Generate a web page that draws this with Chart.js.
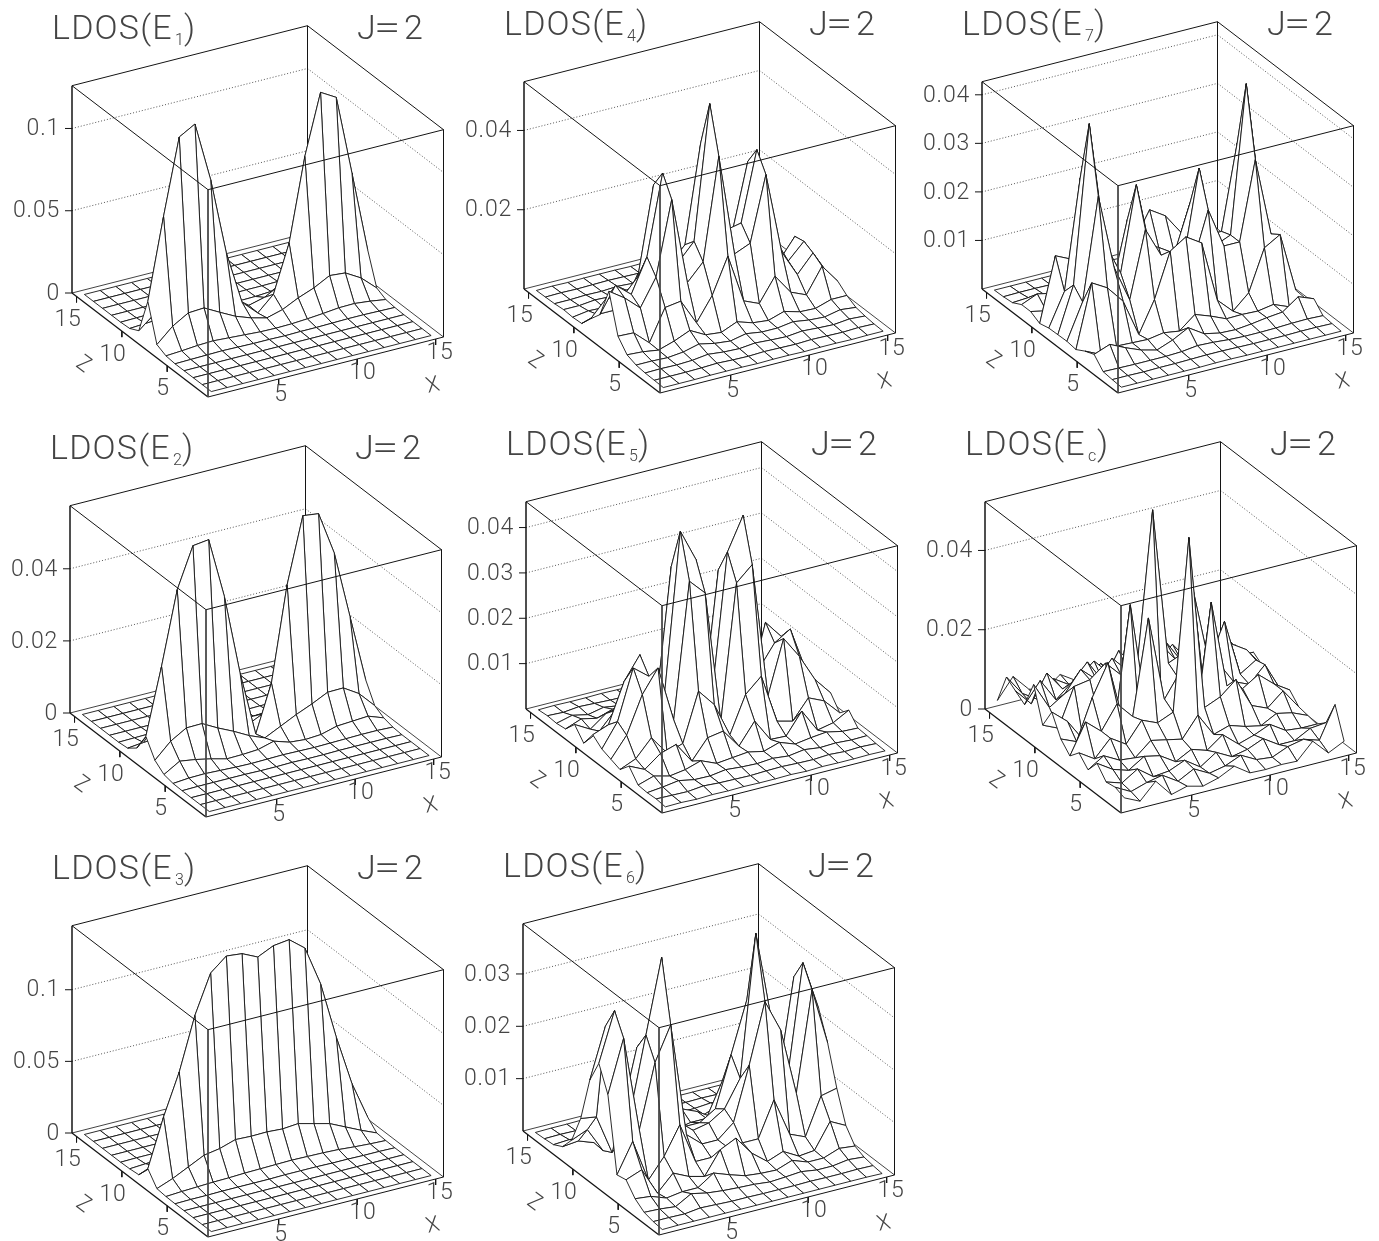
<!DOCTYPE html>
<html><head><meta charset="utf-8">
<style>html,body{margin:0;padding:0;background:#fff;overflow:hidden;width:1379px;height:1241px}
#wrap{position:relative;width:1379px;height:1241px;overflow:hidden}canvas{position:absolute;display:block}</style>
<script src="https://cdn.jsdelivr.net/npm/chart.js@4/dist/chart.umd.min.js"></script>
</head><body><div id="wrap"></div>
<script>
// LDOS. Rows are z = 1..15, columns x = 1..15,
// in relative units: 622 = the top of that panel's value axis.
const Z0=[0,0,0,0,0,0,0,0,0,0,0,0,0,0,0];
const ldosE1=[Z0,Z0,Z0,Z0,
[0,1,2,3,2,1,1,0,1,1,2,3,3,2,1],
[3,6,10,12,9,6,3,2,3,6,10,15,16,11,4],
[16,59,87,90,65,41,24,12,25,48,66,91,87,60,18],
[125,368,594,621,442,210,50,6,50,192,440,620,593,354,112],
[16,55,85,88,62,38,20,8,20,45,64,88,84,58,16],
[2,5,9,11,8,5,2,1,2,5,8,12,14,9,3],
[0,1,2,3,2,1,1,0,1,1,2,3,3,2,1],Z0,Z0,Z0,Z0];
const ldosE2=[Z0,Z0,Z0,
[0,1,1,1,1,0,0,1,0,0,1,1,1,1,0],
[1,5,6,4,2,1,2,3,2,1,2,3,4,4,2],
[7,35,28,18,6,7,10,23,8,4,7,20,23,26,9],
[29,74,102,103,78,56,31,12,35,58,78,101,102,73,25],
[80,278,496,616,622,440,198,3,144,427,622,616,486,284,82],
[24,70,100,100,75,50,28,8,30,55,75,100,100,70,22],
[3,8,12,12,8,5,3,1,3,6,9,12,12,8,3],
[0,1,2,2,1,1,0,0,0,1,1,2,2,1,0],Z0,Z0,Z0,Z0];
const ldosE3=[Z0,Z0,Z0,Z0,
[0,1,1,2,2,2,2,3,3,3,2,2,1,1,0],
[1,4,6,8,9,11,12,13,14,13,12,10,6,3,1],
[4,22,45,68,76,91,89,90,87,91,79,67,45,23,3],
[43,186,309,467,582,621,616,594,616,622,585,466,294,142,30],
[4,20,44,66,74,88,88,88,86,90,78,65,44,22,3],
[1,4,6,8,9,11,12,13,14,13,12,10,6,3,1],
[0,1,1,2,2,2,2,3,3,3,2,2,1,1,0],Z0,Z0,Z0,Z0];
const ldosE4=[
[0,0,0,1,1,1,0,1,1,0,1,1,0,1,1],
[1,1,1,2,4,2,1,3,2,1,3,2,1,3,2],
[2,3,2,4,10,5,3,8,5,3,8,5,3,8,5],
[5,5,3,8,20,10,5,15,8,8,15,8,5,15,10],
[15,12,5,20,40,15,10,30,15,10,25,12,10,25,25],
[50,48,6,100,107,30,100,206,60,40,110,50,30,104,47],
[164,132,90,170,391,130,180,485,180,200,394,150,70,123,46],
[73,149,110,210,450,170,221,622,230,240,448,180,90,137,60],
[40,90,80,130,394,140,190,483,200,190,392,150,70,131,74],
[5,20,20,60,148,40,60,167,60,40,146,40,30,60,30],
[3,10,8,20,50,15,12,45,12,10,50,12,8,20,10],
[5,5,10,8,15,6,5,18,6,5,15,6,5,8,4],
[2,2,4,3,6,3,3,6,4,3,6,3,2,3,2],
[1,2,1,2,3,2,1,2,2,1,2,2,1,1,1],
[0,1,0,1,1,1,0,1,1,0,1,0,1,0,0]];
const ldosE5=[
[2,3,1,3,2,3,2,2,3,1,3,2,2,3,2],
[5,4,3,8,5,4,3,5,6,4,3,6,3,5,3],
[3,8,15,6,5,12,8,6,10,5,12,6,8,5,6],
[5,20,8,15,30,10,15,20,10,25,8,15,20,10,8],
[41,19,55,70,8,66,74,17,80,13,11,74,5,15,41],
[10,30,81,24,40,185,133,30,139,182,35,23,81,60,12],
[20,80,190,258,90,494,447,50,453,496,90,250,185,103,51],
[30,100,249,212,150,623,526,100,525,623,150,216,246,110,35],
[52,70,188,256,80,497,400,50,451,500,80,257,203,80,49],
[6,30,80,30,40,190,130,30,150,170,35,30,90,50,20],
[41,15,50,60,15,70,70,20,70,15,15,70,20,30,20],
[7,25,15,30,15,15,10,25,15,20,10,20,15,10,5],
[3,15,5,15,8,6,8,5,8,6,5,8,6,5,3],
[5,3,8,6,4,3,5,4,3,4,3,3,4,2,2],
[2,3,2,2,3,2,2,3,2,2,1,2,1,1,1]];
const ldosE6=[
[0,1,1,1,1,1,1,1,1,1,1,1,1,1,0],
[3,3,2,8,6,4,4,3,3,3,4,3,3,4,3],
[10,8,3,30,20,15,12,10,5,8,12,5,5,12,8],
[30,25,8,15,15,47,30,15,10,8,25,8,8,25,20],
[66,84,2,50,28,16,84,107,50,13,31,5,10,85,61],
[60,148,20,79,162,40,40,60,60,60,165,50,30,141,152],
[280,437,150,340,441,100,60,60,100,260,439,342,140,438,266],
[353,499,180,402,623,120,80,90,120,200,623,350,160,499,350],
[282,432,150,344,394,100,70,70,100,250,402,300,140,436,280],
[146,139,20,70,160,40,40,50,50,148,166,50,30,140,150],
[60,80,5,50,30,15,60,70,50,20,30,10,10,70,50],
[20,25,8,15,15,30,25,15,10,8,25,8,8,25,15],
[5,8,3,12,10,12,10,8,5,6,10,5,5,10,8],
[2,3,2,5,5,6,5,4,3,3,4,3,3,4,3],
[0,1,1,2,2,3,4,3,2,1,1,1,1,1,1]];
const ldosE7=[
[1,1,1,1,1,1,2,2,1,1,1,1,1,1,1],
[3,3,2,3,3,4,5,5,4,3,3,3,4,4,3],
[6,5,4,4,4,6,12,10,6,4,4,5,7,8,6],
[37,55,33,14,2,20,45,15,5,3,8,15,20,54,36],
[26,4,17,15,13,21,14,52,35,15,16,14,22,3,18],
[10,198,171,119,7,100,233,264,234,50,5,48,171,199,20],
[14,120,425,200,90,289,200,180,150,300,180,180,415,180,30],
[13,150,622,250,150,403,170,90,140,405,160,180,622,220,70],
[12,110,438,190,80,277,190,170,140,280,170,170,423,170,30],
[5,196,174,60,10,60,180,262,232,170,60,40,191,170,30],
[20,10,15,15,12,20,14,50,35,15,16,14,22,10,15],
[20,40,30,14,3,20,40,15,5,3,8,15,20,50,30],
[5,8,6,5,4,6,10,8,6,4,4,5,7,8,6],
[2,3,3,2,2,3,4,4,3,2,2,2,3,3,2],
[1,1,1,1,1,1,1,2,1,1,1,1,1,1,1]];
const ldosEc=[
[29,7,55,3,16,4,17,40,8,6,9,7,55,8,31],
[40,15,30,40,10,35,10,20,40,15,10,30,40,25,120],
[35,20,50,15,20,40,8,40,15,25,45,15,15,40,45],
[70,40,25,55,45,15,40,25,60,20,35,55,25,20,20],
[30,60,35,30,70,60,50,110,40,55,40,30,55,45,25],
[60,30,80,50,110,90,110,622,100,120,160,70,50,90,30],
[30,120,80,150,100,384,130,20,25,383,120,100,130,90,60],
[60,40,160,252,60,50,30,60,60,150,170,100,80,127,40],
[120,80,13,70,30,382,60,60,130,379,150,260,90,120,60],
[60,39,152,160,198,150,160,622,150,170,210,130,160,130,70],
[161,80,110,170,128,180,130,160,190,130,150,110,140,90,90],
[80,140,70,110,160,90,170,110,100,160,90,130,80,120,50],
[100,50,130,70,90,130,80,110,70,80,120,60,100,60,70],
[121,60,30,80,50,40,90,40,70,40,50,70,30,60,30],
[30,90,40,25,60,30,40,60,30,50,25,40,50,20,40]];

const panelNames=['1','4','7','2','5','c','3','6'];
const panelGrids=[ldosE1,ldosE4,ldosE7,ldosE2,ldosE5,ldosEc,ldosE3,ldosE6];
const valueMax=[0.126,0.0523,0.0427,0.0575,0.0457,0.0523,0.1447,0.0396];
const valueTicks=[[0,0.05,0.1],[0.02,0.04],[0.01,0.02,0.03,0.04],[0,0.02,0.04],[0.01,0.02,0.03,0.04],[0,0.02,0.04],[0,0.05,0.1],[0.01,0.02,0.03]];
const gridTicks=[5,10,15];
// screen position of each panel's front-bottom corner
const corners=[[208,397.3],[660,393.3],[1118.3,393.3],[206,817.3],[661.7,813.3],[1120.7,813.3],[208,1236.7],[659.3,1235]];
const AX=[235.5,-60],AZ=[-136,-104],AH=207.3,AMIN=0.5,ARANGE=15,OX=208,OY=397,CW=460,CH=420;
const INK='#141414',TXT='#444',FONT='Roboto';

function project(x,z,v,zmax){
  const tx=(x-AMIN)/ARANGE,tz=(z-AMIN)/ARANGE;
  return {x:OX+tx*AX[0]+tz*AZ[0],y:OY+tx*AX[1]+tz*AZ[1]-v/zmax*AH};
}
function seg(points,w,color,dash){
  return {data:points,showLine:true,borderColor:color||INK,borderWidth:w,borderDash:dash||[],fill:false,pointRadius:0,tension:0,borderJoinStyle:'round',borderCapStyle:'butt'};
}
function textPlugin(p){return {id:'texts',afterDraw(c){
  const g=c.ctx,zmax=valueMax[p];
  g.save();g.fillStyle=TXT;g.textBaseline='alphabetic';
  const font=(s)=>`300 ${s}px ${FONT}`;
  g.textAlign='left';
  g.font=font(34);g.letterSpacing='1.2px';
  g.fillText('LDOS(E',52,39);
  g.letterSpacing='0px';
  g.font=font(16);g.fillText(panelNames[p],175,45);
  g.font=font(34);g.fillText(')',184,39);
  g.fillText('J',357,39);g.fillText('2',404,39);
  g.save();g.translate(374,39);g.scale(1.4,1);g.fillText('=',0,0);g.restore();
  g.font=font(23);g.letterSpacing='0.8px';
  g.textAlign='right';g.textBaseline='middle';
  valueTicks[p].forEach(v=>{const q=project(AMIN,ARANGE+AMIN,v,zmax);g.fillText(String(v),q.x-12,q.y+1);});
  g.textAlign='center';
  [[15,68,320],[10,113,355],[5,163,389]].forEach(([t,x,y])=>g.fillText(String(t),x,y));
  [[5,281,395],[10,363,373],[15,440,353]].forEach(([t,x,y])=>g.fillText(String(t),x,y));
  g.letterSpacing='0px';
  g.textAlign='left';g.textBaseline='alphabetic';g.font=font(22);
  g.save();g.transform(0.74,0.55,-0.58,0.84,75,366);g.fillText('Z',0,0);g.restore();
  g.save();g.transform(0.95,-0.19,0.25,0.96,428,392.7);g.fillText('X',0,0);g.restore();
  g.restore();
}};}

panelGrids.forEach((grid,p)=>{
  const zmax=valueMax[p],P=(x,z,v)=>project(x,z,v,zmax);
  const hi=AMIN+ARANGE,lo=AMIN,ds=[];
  const val=(i,j)=>grid[j][i]/622*zmax;
  // front box edges sit on top of the surface
  ds.push(seg([P(lo,lo,zmax),P(lo,lo,0)],1,'#444'));
  ds.push(seg([P(lo,hi,zmax),P(lo,lo,zmax),P(hi,lo,zmax)],1));
  ds.push(seg([P(lo,hi,0),P(lo,lo,0)],1.3));
  ds.push(seg([P(lo,lo,0),P(hi,lo,0)],1));
  ds.push(seg([P(lo,hi,0),P(lo,hi,zmax)],1.5));
  valueTicks[p].forEach(v=>{const a=P(lo,hi,v);ds.push(seg([{x:a.x-7,y:a.y},a],1));});
  gridTicks.forEach(t=>{const a=P(t,lo,0),b=P(lo,t,0);
    ds.push(seg([a,{x:a.x,y:a.y+6}],1));ds.push(seg([b,{x:b.x,y:b.y+6}],1));});
  // surface, nearest cell first because the first dataset is drawn last
  for(let j=0;j<14;j++)for(let i=0;i<14;i++){
    const pts=[P(i+1,j+1,val(i,j)),P(i+2,j+1,val(i+1,j)),P(i+2,j+2,val(i+1,j+1)),P(i+1,j+2,val(i,j+1))];
    pts.push(pts[0]);
    ds.push({data:pts,showLine:true,borderColor:INK,borderWidth:0.9,fill:'shape',backgroundColor:'#fff',pointRadius:0,tension:0,borderJoinStyle:'round'});
  }
  // back walls
  ds.push(seg([P(hi,hi,0),P(hi,hi,zmax)],1));
  ds.push(seg([P(lo,hi,zmax),P(hi,hi,zmax),P(hi,lo,zmax),P(hi,lo,0)],1));
  ds.push(seg([P(lo,hi,0),P(hi,hi,0),P(hi,lo,0)],0.8));
  valueTicks[p].filter(v=>v>0).forEach(v=>ds.push(seg([P(lo,hi,v),P(hi,hi,v),P(hi,lo,v)],0.9,'#444',[1,2])));
  const cv=document.createElement('canvas');
  cv.width=CW;cv.height=CH;
  cv.style.left=(corners[p][0]-OX)+'px';cv.style.top=(corners[p][1]-OY)+'px';
  document.getElementById('wrap').appendChild(cv);
  new Chart(cv,{type:'line',data:{datasets:ds},plugins:[textPlugin(p)],options:{
    responsive:false,animation:false,events:[],layout:{padding:0},
    plugins:{legend:{display:false},tooltip:{enabled:false},title:{display:false}},
    scales:{x:{type:'linear',display:false,min:0,max:CW},y:{type:'linear',display:false,min:0,max:CH,reverse:true}}
  }});
});
</script></body></html>
